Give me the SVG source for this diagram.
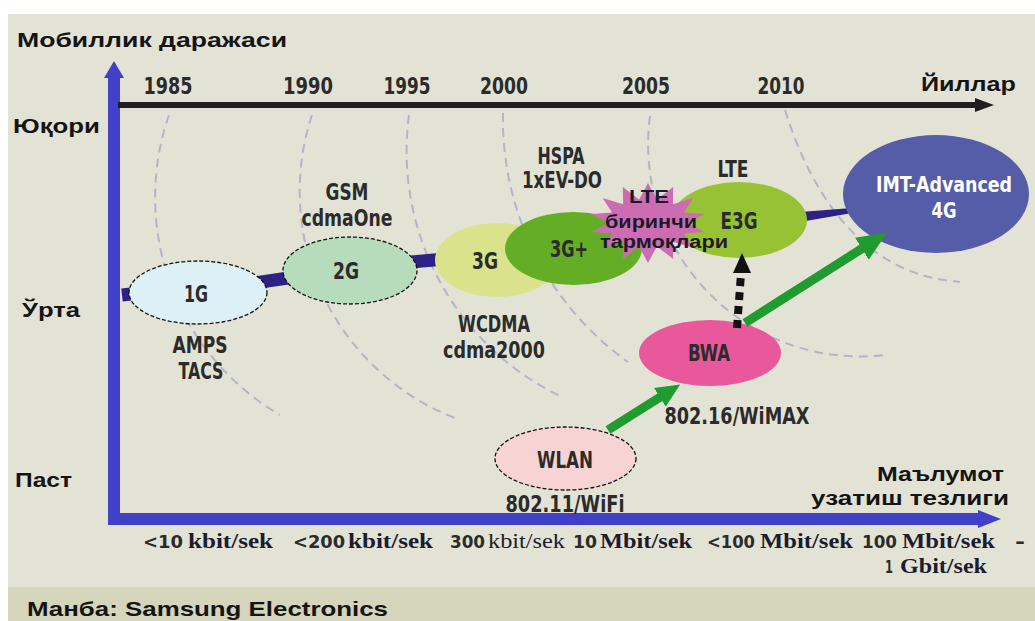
<svg xmlns="http://www.w3.org/2000/svg" width="1035" height="621" viewBox="0 0 1035 621">
<style>
.lbl{font-family:"DejaVu Sans Condensed","DejaVu Sans",sans-serif;font-weight:bold;font-size:23px;fill:#2b2b2b;text-anchor:middle}
.cyr{font-family:"Liberation Sans",Arial,sans-serif;font-weight:bold;font-size:21px;fill:#141414}
.star{font-family:"Liberation Sans",Arial,sans-serif;font-weight:bold;font-size:18px;fill:#1a1a28}
.num{font-family:"DejaVu Sans Condensed","DejaVu Sans",sans-serif;font-weight:bold;font-size:18px;fill:#2b2b2b}
.unit{font-family:"Liberation Serif","Times New Roman",serif;font-weight:bold;font-size:20px;fill:#1c1c30}
.unitr{font-family:"Liberation Serif","Times New Roman",serif;font-size:20px;fill:#1c1c30}
.arc{fill:none;stroke:#b2b5c8;stroke-width:2;stroke-dasharray:9 6}
.dash{stroke:#111;stroke-width:1.3;stroke-dasharray:4 2}
.bar{stroke:#2d2185;stroke-width:13;fill:none}
.grn{stroke:#1f9b2f;stroke-width:9;fill:none}
</style>
<defs>
<marker id="gh1" markerUnits="userSpaceOnUse" markerWidth="24" markerHeight="22" refX="1" refY="11" orient="auto"><path d="M0,0 L24,11 L0,22 z" fill="#1f9b2f"/></marker>
<marker id="gh2" markerUnits="userSpaceOnUse" markerWidth="30" markerHeight="26" refX="1" refY="13" orient="auto"><path d="M0,0 L30,13 L0,26 z" fill="#1f9b2f"/></marker>
</defs>

<g id="background">
<rect x="0" y="0" width="1035" height="621" fill="#ffffff"/>
<rect x="8" y="14" width="1027" height="607" fill="#e3e3d5"/>
<rect x="8" y="587" width="1027" height="34" fill="#d5d5bb"/>
</g>

<g id="arcs">
<path class="arc" d="M169,115 A252,252 0 0 0 280,415"/>
<path class="arc" d="M312,115 A243,243 0 0 0 455,418"/>
<path class="arc" d="M409,115 A272,272 0 0 0 560,396"/>
<path class="arc" d="M503,113 A298,298 0 0 0 628,362"/>
<path class="arc" d="M650,116 A212,212 0 0 0 885,355"/>
<path class="arc" d="M785,110 C810,190 860,275 960,282"/>
</g>

<g id="axes">
<line x1="114" y1="525" x2="114" y2="75" stroke="#4040c8" stroke-width="12"/>
<polygon points="114,61 104,78 124,78" fill="#4040c8"/>
<line x1="108" y1="519" x2="982" y2="519" stroke="#4040c8" stroke-width="12"/>
<polygon points="978,510 1001,519 978,528" fill="#4040c8"/>
<line x1="118" y1="105" x2="978" y2="105" stroke="#1e1e1e" stroke-width="6"/>
<polygon points="975,98 994,105 975,112" fill="#1e1e1e"/>
</g>

<g id="axis-labels">
<text class="cyr" x="17" y="47" textLength="270" lengthAdjust="spacingAndGlyphs">Мобиллик даражаси</text>
<text class="cyr" x="13" y="133" textLength="87" lengthAdjust="spacingAndGlyphs">Юқори</text>
<text class="cyr" x="22" y="317" textLength="58" lengthAdjust="spacingAndGlyphs">Ўрта</text>
<text class="cyr" x="15" y="487" textLength="57" lengthAdjust="spacingAndGlyphs">Паст</text>
<text class="cyr" x="921" y="91" textLength="95" lengthAdjust="spacingAndGlyphs">Йиллар</text>
<text class="cyr" x="877" y="481" textLength="127" lengthAdjust="spacingAndGlyphs">Маълумот</text>
<text class="cyr" x="811" y="505" textLength="198" lengthAdjust="spacingAndGlyphs">узатиш тезлиги</text>
<text class="cyr" x="27" y="616" textLength="361" lengthAdjust="spacingAndGlyphs">Манба: Samsung Electronics</text>
<text class="lbl" x="168" y="94" textLength="49" lengthAdjust="spacingAndGlyphs">1985</text>
<text class="lbl" x="308" y="94" textLength="50" lengthAdjust="spacingAndGlyphs">1990</text>
<text class="lbl" x="407" y="94" textLength="47" lengthAdjust="spacingAndGlyphs">1995</text>
<text class="lbl" x="504" y="94" textLength="48" lengthAdjust="spacingAndGlyphs">2000</text>
<text class="lbl" x="646" y="94" textLength="48" lengthAdjust="spacingAndGlyphs">2005</text>
<text class="lbl" x="781" y="94" textLength="47" lengthAdjust="spacingAndGlyphs">2010</text>
</g>

<g id="speed-labels">
<text class="num" x="143" y="548" textLength="40" lengthAdjust="spacingAndGlyphs">&lt;10</text>
<text class="unit" x="188" y="548" textLength="85" lengthAdjust="spacingAndGlyphs">kbit/sek</text>
<text class="num" x="293" y="548" textLength="52" lengthAdjust="spacingAndGlyphs">&lt;200</text>
<text class="unit" x="348" y="548" textLength="85" lengthAdjust="spacingAndGlyphs">kbit/sek</text>
<text class="num" x="450" y="548" textLength="35" lengthAdjust="spacingAndGlyphs">300</text>
<text class="unitr" x="488" y="548" textLength="77" lengthAdjust="spacingAndGlyphs">kbit/sek</text>
<text class="num" x="573" y="548" textLength="24" lengthAdjust="spacingAndGlyphs">10</text>
<text class="unit" x="600" y="548" textLength="92" lengthAdjust="spacingAndGlyphs">Mbit/sek</text>
<text class="num" x="707" y="548" textLength="48" lengthAdjust="spacingAndGlyphs">&lt;100</text>
<text class="unit" x="760" y="548" textLength="93" lengthAdjust="spacingAndGlyphs">Mbit/sek</text>
<text class="num" x="862" y="548" textLength="35" lengthAdjust="spacingAndGlyphs">100</text>
<text class="unit" x="902" y="548" textLength="93" lengthAdjust="spacingAndGlyphs">Mbit/sek</text>
<text class="num" x="1015" y="548" textLength="10" lengthAdjust="spacingAndGlyphs">-</text>
<text class="num" x="885" y="573" textLength="8" lengthAdjust="spacingAndGlyphs">1</text>
<text class="unit" x="900" y="573" textLength="87" lengthAdjust="spacingAndGlyphs">Gbit/sek</text>
</g>

<g id="links">
<line class="bar" x1="122" y1="295" x2="140" y2="293"/>
<line class="bar" x1="240" y1="285" x2="295" y2="277"/>
<line class="bar" x1="400" y1="263" x2="445" y2="259"/>
<polygon points="800,212 852,208 852,213 800,222" fill="#2d2185"/>
</g>

<g id="node-1G">
<ellipse cx="198" cy="292.5" rx="69" ry="31.5" fill="#dcf0f5" class="dash"/>
<text class="lbl" x="196" y="302" textLength="24" lengthAdjust="spacingAndGlyphs">1G</text>
<text class="lbl" x="200" y="353" textLength="55" lengthAdjust="spacingAndGlyphs">AMPS</text>
<text class="lbl" x="201" y="379" textLength="45" lengthAdjust="spacingAndGlyphs">TACS</text>
</g>
<g id="node-2G">
<ellipse cx="350" cy="270.5" rx="67" ry="33.5" fill="#b6dcbc" class="dash"/>
<text class="lbl" x="346" y="279" textLength="26" lengthAdjust="spacingAndGlyphs">2G</text>
<text class="lbl" x="347" y="200" textLength="43" lengthAdjust="spacingAndGlyphs">GSM</text>
<text class="lbl" x="347" y="226" textLength="91" lengthAdjust="spacingAndGlyphs">cdmaOne</text>
</g>
<g id="node-3G">
<ellipse cx="497" cy="260" rx="62" ry="37" fill="#dae38c"/>
<text class="lbl" x="485" y="269" textLength="26" lengthAdjust="spacingAndGlyphs">3G</text>
<text class="lbl" x="494" y="332" textLength="72" lengthAdjust="spacingAndGlyphs">WCDMA</text>
<text class="lbl" x="494" y="358" textLength="102" lengthAdjust="spacingAndGlyphs">cdma2000</text>
</g>
<g id="node-3Gplus">
<ellipse cx="573.5" cy="248.5" rx="68.5" ry="36.5" fill="#63ae25"/>
<text class="lbl" x="569" y="257" textLength="38" lengthAdjust="spacingAndGlyphs">3G+</text>
<text class="lbl" x="561" y="164" textLength="47" lengthAdjust="spacingAndGlyphs">HSPA</text>
<text class="lbl" x="562" y="188" textLength="80" lengthAdjust="spacingAndGlyphs">1xEV-DO</text>
</g>
<g id="node-E3G">
<ellipse cx="739" cy="220" rx="68" ry="38" fill="#97c233"/>
<text class="lbl" x="739" y="229" textLength="37" lengthAdjust="spacingAndGlyphs">E3G</text>
<text class="lbl" x="733" y="177" textLength="31" lengthAdjust="spacingAndGlyphs">LTE</text>
</g>
<g id="node-LTE-first">
<polygon fill="#cc6db3" points="648,183 656.9,199.6 673.2,187 672.9,204.2 693.3,198.1 684,212.6 704.5,214.1 688,223 704.5,231.9 684,233.4 693.3,247.9 672.9,241.8 673.2,259 656.9,246.4 648,263 639.1,246.4 622.8,259 623.1,241.8 602.7,247.9 612,233.4 591.5,231.9 608,223 591.5,214.1 612,212.6 602.7,198.1 623.1,204.2 622.8,187 639.1,199.6"/>
<text class="star" x="649" y="203" text-anchor="middle" textLength="40" lengthAdjust="spacingAndGlyphs">LTE</text>
<text class="star" x="605" y="228" textLength="92" lengthAdjust="spacingAndGlyphs">биринчи</text>
<text class="star" x="600" y="248" textLength="128" lengthAdjust="spacingAndGlyphs">тармоқлари</text>
</g>
<g id="node-IMT">
<ellipse cx="936" cy="194" rx="93" ry="59" fill="#555da9"/>
<text class="lbl" x="944" y="192" textLength="136" lengthAdjust="spacingAndGlyphs" style="fill:#ffffff;font-size:22px">IMT-Advanced</text>
<text class="lbl" x="944" y="218" textLength="25" lengthAdjust="spacingAndGlyphs" style="fill:#ffffff;font-size:22px">4G</text>
</g>
<g id="node-BWA">
<ellipse cx="710" cy="353" rx="71" ry="33" fill="#e8589a"/>
<text class="lbl" x="709" y="361" textLength="42" lengthAdjust="spacingAndGlyphs">BWA</text>
<text class="lbl" x="737" y="424" textLength="145" lengthAdjust="spacingAndGlyphs">802.16/WiMAX</text>
</g>
<g id="node-WLAN">
<ellipse cx="565.5" cy="458.5" rx="70.5" ry="31.5" fill="#f7d3d4" class="dash"/>
<text class="lbl" x="565" y="468" textLength="56" lengthAdjust="spacingAndGlyphs">WLAN</text>
<text class="lbl" x="565" y="512" textLength="119" lengthAdjust="spacingAndGlyphs">802.11/WiFi</text>
</g>

<g id="connectors">
<line class="grn" x1="608" y1="430" x2="660.7" y2="396.8" marker-end="url(#gh1)"/>
<line class="grn" x1="745" y1="323" x2="862.7" y2="248.1" marker-end="url(#gh2)"/>
<line x1="737" y1="328" x2="741" y2="274" stroke="#111" stroke-width="8" stroke-dasharray="8 6"/>
<polygon points="742,253 733,273 751,273" fill="#111"/>
</g>
</svg>
